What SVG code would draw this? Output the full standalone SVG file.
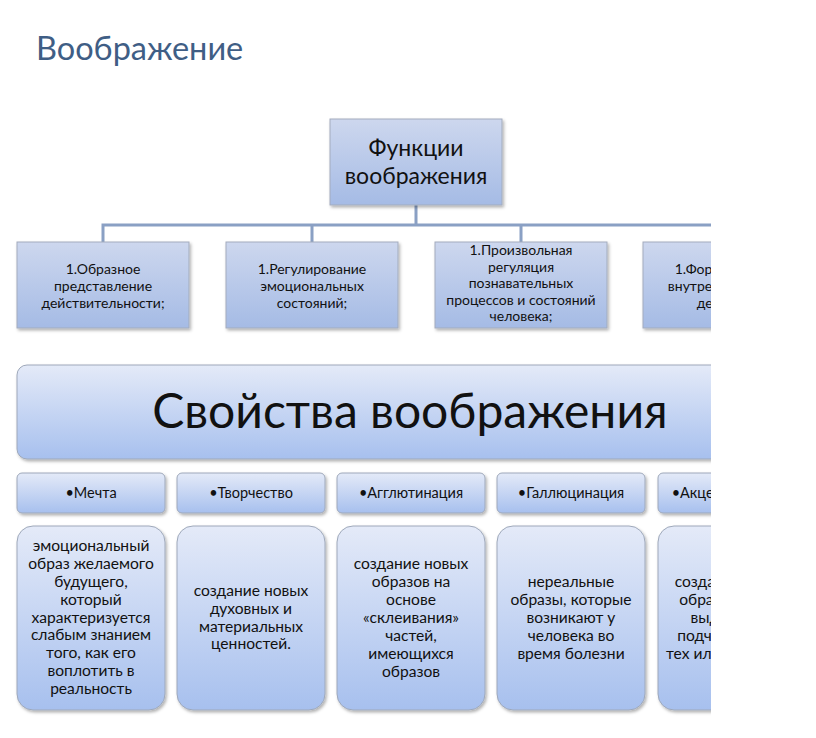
<svg xmlns="http://www.w3.org/2000/svg" width="816" height="738" viewBox="0 0 816 738">
<defs>
<linearGradient id="gBox" x1="0" y1="0" x2="0" y2="1">
<stop offset="0" stop-color="#cdd7ee"/>
<stop offset="1" stop-color="#a5bbe5"/>
</linearGradient>
<linearGradient id="gLight" x1="0" y1="0" x2="0" y2="1">
<stop offset="0" stop-color="#e4eaf8"/>
<stop offset="1" stop-color="#a7c0ee"/>
</linearGradient>
<filter id="sh" x="-10%" y="-10%" width="130%" height="130%">
<feDropShadow dx="1.5" dy="2" stdDeviation="1.5" flood-color="#000" flood-opacity="0.3"/>
</filter>
<clipPath id="clip"><rect x="0" y="0" width="711" height="738"/></clipPath>
</defs>
<style>
.box{fill:url(#gBox);stroke:#a3acbd;stroke-width:1;filter:url(#sh)}
.lbox{fill:url(#gLight);stroke:#9ea8ba;stroke-width:1;filter:url(#sh)}
.t{font-family:Lato,"Noto Sans","DejaVu Sans",sans-serif;fill:#111;text-anchor:middle}
.f13{font-size:14px}
.fh{font-size:14.5px}
.f14{font-size:15.6px}
.conn{stroke:#8aa0c4;stroke-width:3;fill:none}
</style>
<rect width="816" height="738" fill="#fff"/>
<text x="36" y="60" font-family="Lato,'Noto Sans',sans-serif" font-size="32.5" fill="#3f5e85">Воображение</text>
<g clip-path="url(#clip)">
<g id="connectors">
<path class="conn" d="M416 205V225M103 242V225H730V242M312 225V242M521 225V242"/>
</g>
<g id="functions">
<rect class="box" x="330" y="119" width="172" height="86"/>
<text class="t" x="416" y="156" font-size="23">Функции</text>
<text class="t" x="416" y="184" font-size="23">воображения</text>
</g>
<g id="f1">
<rect class="box" x="17" y="242" width="172" height="86"/>
<text class="t f13" x="103" y="274">1.Образное</text>
<text class="t f13" x="103" y="291">представление</text>
<text class="t f13" x="103" y="308">действительности;</text>
</g>
<g id="f2">
<rect class="box" x="226" y="242" width="172" height="86"/>
<text class="t f13" x="312" y="274">1.Регулирование</text>
<text class="t f13" x="312" y="291">эмоциональных</text>
<text class="t f13" x="312" y="308">состояний;</text>
</g>
<g id="f3">
<rect class="box" x="435" y="242" width="172" height="86"/>
<text class="t f13" x="521" y="255">1.Произвольная</text>
<text class="t f13" x="521" y="272">регуляция</text>
<text class="t f13" x="521" y="288">познавательных</text>
<text class="t f13" x="521" y="305">процессов и состояний</text>
<text class="t f13" x="521" y="321">человека;</text>
</g>
<g id="f4">
<rect class="box" x="643" y="242" width="172" height="86"/>
<text class="t f13" x="729" y="274">1.Формирование</text>
<text class="t f13" x="729" y="291">внутреннего плана</text>
<text class="t f13" x="729" y="308">действий;</text>
</g>
<g id="banner">
<rect class="lbox" x="17" y="365" width="786" height="94" rx="10"/>
<text class="t" x="410" y="428" font-size="48">Свойства воображения</text>
</g>
<g id="p1">
<rect class="lbox" x="17" y="473" width="148" height="40" rx="5"/>
<text class="t fh" x="91" y="498">•Мечта</text>
<rect class="lbox" x="17" y="526" width="148" height="184" rx="16"/>
<text class="t f14" x="91" y="551">эмоциональный</text>
<text class="t f14" x="91" y="569">образ желаемого</text>
<text class="t f14" x="91" y="587">будущего,</text>
<text class="t f14" x="91" y="605">который</text>
<text class="t f14" x="91" y="623">характеризуется</text>
<text class="t f14" x="91" y="640">слабым знанием</text>
<text class="t f14" x="91" y="658">того, как его</text>
<text class="t f14" x="91" y="676">воплотить в</text>
<text class="t f14" x="91" y="694">реальность</text>
</g>
<g id="p2">
<rect class="lbox" x="177" y="473" width="148" height="40" rx="5"/>
<text class="t fh" x="251" y="498">•Творчество</text>
<rect class="lbox" x="177" y="526" width="148" height="184" rx="16"/>
<text class="t f14" x="251" y="596">создание новых</text>
<text class="t f14" x="251" y="614">духовных и</text>
<text class="t f14" x="251" y="632">материальных</text>
<text class="t f14" x="251" y="649">ценностей.</text>
</g>
<g id="p3">
<rect class="lbox" x="337" y="473" width="148" height="40" rx="5"/>
<text class="t fh" x="411" y="498">•Агглютинация</text>
<rect class="lbox" x="337" y="526" width="148" height="184" rx="16"/>
<text class="t f14" x="411" y="569">создание новых</text>
<text class="t f14" x="411" y="587">образов на</text>
<text class="t f14" x="411" y="605">основе</text>
<text class="t f14" x="411" y="623">«склеивания»</text>
<text class="t f14" x="411" y="641">частей,</text>
<text class="t f14" x="411" y="659">имеющихся</text>
<text class="t f14" x="411" y="677">образов</text>
</g>
<g id="p4">
<rect class="lbox" x="497" y="473" width="148" height="40" rx="5"/>
<text class="t fh" x="571" y="498">•Галлюцинация</text>
<rect class="lbox" x="497" y="526" width="148" height="184" rx="16"/>
<text class="t f14" x="571" y="587">нереальные</text>
<text class="t f14" x="571" y="605">образы, которые</text>
<text class="t f14" x="571" y="623">возникают у</text>
<text class="t f14" x="571" y="641">человека во</text>
<text class="t f14" x="571" y="659">время болезни</text>
</g>
<g id="p5">
<rect class="lbox" x="658" y="473" width="148" height="40" rx="5"/>
<text class="t fh" x="732" y="498">•Акцентирование</text>
<rect class="lbox" x="658" y="526" width="148" height="184" rx="16"/>
<text class="t f14" x="732" y="587">создание новых</text>
<text class="t f14" x="732" y="605">образов путем</text>
<text class="t f14" x="732" y="623">выделения,</text>
<text class="t f14" x="732" y="641">подчеркивания</text>
<text class="t f14" x="732" y="659">тех или иных черт</text>
</g>
</g>
</svg>
